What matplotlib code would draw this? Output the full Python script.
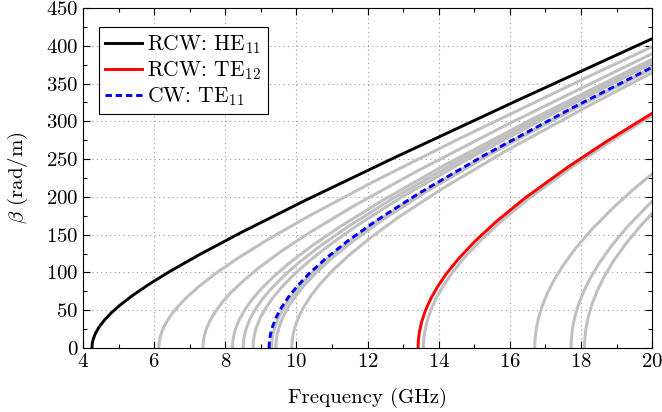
import matplotlib
matplotlib.use("Agg")
import matplotlib.pyplot as plt
from matplotlib.ticker import MultipleLocator

plt.rcParams['font.family'] = 'serif'
plt.rcParams['font.serif'] = ['cmr10']
plt.rcParams['mathtext.fontset'] = 'cm'
plt.rcParams['axes.formatter.use_mathtext'] = True

# dispersion curves: frequency (GHz) and beta (rad/m)
he11_f = [4.25, 4.26, 4.29, 4.35, 4.45, 4.6, 4.8, 5.05, 5.4, 5.85, 6.45, 7.25,
          8.45, 10.25, 12.75, 16.25, 20]
he11_b = [0, 6.1, 12.2, 19.4, 27.6, 36.9, 46.7, 57.1, 69.8, 84.2, 101.6, 123.0,
          153.0, 195.4, 251.8, 328.5, 409.3]

te12_f = [13.42, 13.43, 13.46, 13.52, 13.62, 13.77, 13.97, 14.22, 14.57, 15.02,
          15.62, 16.42, 17.62, 18.72, 20]
te12_b = [0, 10.9, 21.7, 34.4, 48.7, 64.6, 81.3, 98.5, 118.8, 141.3, 167.4,
          198.2, 239.1, 273.4, 310.6]

cw_te11_f = [9.23, 9.24, 9.27, 9.33, 9.43, 9.58, 9.78, 10.03, 10.38, 10.83,
             11.43, 12.23, 13.43, 15.23, 17.73, 20]
cw_te11_b = [0, 9.0, 18.0, 28.5, 40.5, 53.7, 67.7, 82.2, 99.5, 118.7, 141.2,
             168.1, 204.3, 253.7, 317.1, 371.6]

# other RCW modes (grey)
grey_f = [
    [6.13, 6.14, 6.17, 6.23, 6.33, 6.48, 6.68, 6.93, 7.28, 7.73, 8.33, 9.13,
     10.33, 12.13, 14.63, 18.13, 20],
    [7.37, 7.38, 7.41, 7.47, 7.57, 7.72, 7.92, 8.17, 8.52, 8.97, 9.57, 10.37,
     11.57, 13.37, 15.87, 19.37, 20],
    [8.2, 8.21, 8.24, 8.3, 8.4, 8.55, 8.75, 9.0, 9.35, 9.8, 10.4, 11.2, 12.4,
     14.2, 16.7, 20],
    [8.5, 8.51, 8.54, 8.6, 8.7, 8.85, 9.05, 9.3, 9.65, 10.1, 10.7, 11.5, 12.7,
     14.5, 17.0, 20],
    [8.78, 8.79, 8.82, 8.88, 8.98, 9.13, 9.33, 9.58, 9.93, 10.38, 10.98, 11.78,
     12.98, 14.78, 17.28, 20],
    [9.3, 9.31, 9.34, 9.4, 9.5, 9.65, 9.85, 10.1, 10.45, 10.9, 11.5, 12.3, 13.5,
     15.3, 17.8, 20],
    [9.42, 9.43, 9.46, 9.52, 9.62, 9.77, 9.97, 10.22, 10.57, 11.02, 11.62,
     12.42, 13.62, 15.42, 17.92, 20],
    [9.87, 9.88, 9.91, 9.97, 10.07, 10.22, 10.42, 10.67, 11.02, 11.47, 12.07,
     12.87, 14.07, 15.87, 18.37, 20],
    [13.57, 13.58, 13.61, 13.67, 13.77, 13.92, 14.12, 14.37, 14.72, 15.17,
     15.77, 16.57, 17.77, 18.87, 20],
    [16.7, 16.71, 16.74, 16.8, 16.9, 17.05, 17.25, 17.5, 17.85, 18.3, 18.9,
     19.45, 20],
    [17.72, 17.73, 17.76, 17.82, 17.92, 18.07, 18.27, 18.52, 18.87, 19.32, 20],
    [18.1, 18.11, 18.14, 18.2, 18.3, 18.45, 18.65, 18.9, 19.25, 19.7, 20],
]
grey_b = [
    [0, 7.3, 14.7, 23.3, 33.1, 44.0, 55.6, 67.7, 82.3, 98.6, 118.1, 141.7,
     174.1, 219.2, 278.2, 357.4, 398.7],
    [0, 8.0, 16.1, 25.5, 36.2, 48.1, 60.7, 73.9, 89.5, 107.1, 127.9, 152.8,
     186.8, 233.6, 294.4, 375.2, 389.4],
    [0, 8.5, 17.0, 26.9, 38.2, 50.7, 64.0, 77.7, 94.1, 112.4, 134.0, 159.8,
     194.8, 242.8, 304.7, 382.1],
    [0, 8.6, 17.3, 27.4, 38.9, 51.6, 65.1, 79.0, 95.7, 114.3, 136.1, 162.2,
     197.6, 246.0, 308.4, 379.2],
    [0, 8.8, 17.6, 27.8, 39.5, 52.4, 66.1, 80.3, 97.2, 116.0, 138.1, 164.5,
     200.2, 249.0, 311.7, 376.4],
    [0, 9.0, 18.1, 28.6, 40.6, 53.9, 68.0, 82.5, 99.8, 119.1, 141.7, 168.6,
     205.0, 254.5, 317.9, 370.8],
    [0, 9.1, 18.2, 28.8, 40.9, 54.3, 68.4, 83.0, 100.4, 119.8, 142.5, 169.5,
     206.0, 255.7, 319.3, 369.5],
    [0, 9.3, 18.6, 29.5, 41.8, 55.5, 70.0, 84.9, 102.7, 122.4, 145.5, 173.0,
     210.0, 260.3, 324.5, 364.3],
    [0, 10.9, 21.8, 34.6, 49.0, 65.0, 81.7, 99.0, 119.5, 142.0, 168.3, 199.2,
     240.3, 274.6, 307.7],
    [0, 12.1, 24.2, 38.3, 54.3, 72.0, 90.5, 109.6, 132.0, 156.7, 185.4, 208.8,
     230.5],
    [0, 12.5, 25.0, 39.5, 55.9, 74.1, 93.2, 112.8, 135.9, 161.2, 194.2],
    [0, 12.6, 25.2, 39.9, 56.5, 74.9, 94.2, 114.0, 137.3, 162.9, 178.0],
]

fs = 15

fig = plt.figure(figsize=(6.62, 4.12), dpi=100)
ax = fig.add_axes([0.1254, 0.1553, 0.8596, 0.8253])

for f, b in zip(grey_f, grey_b):
    ax.plot(f, b, color='#c0c0c0', lw=2.2)

ax.plot(he11_f, he11_b, color='black', lw=2.1, label='RCW: HE$_{11}$')
ax.plot(te12_f, te12_b, color='red', lw=2.1, label='RCW: TE$_{12}$')
ax.plot(cw_te11_f, cw_te11_b, color='blue', lw=2.1, ls=(0, (2.2, 1.3)),
        label='CW: TE$_{11}$')

ax.set_xlim(4, 20)
ax.set_ylim(0, 450)
ax.xaxis.set_major_locator(MultipleLocator(2))
ax.xaxis.set_minor_locator(MultipleLocator(1))
ax.yaxis.set_major_locator(MultipleLocator(50))
ax.yaxis.set_minor_locator(MultipleLocator(25))
ax.tick_params(which='both', direction='in', top=True, right=True,
               labelsize=fs, width=0.8)
ax.tick_params(which='major', length=5)
ax.tick_params(which='minor', length=3)
ax.grid(True, which='major', color='#999999', ls=(0, (1, 3)), lw=0.8)

ax.set_xlabel('Frequency (GHz)', fontsize=fs, labelpad=12)
ax.set_ylabel(r'$\beta$ (rad/m)', fontsize=fs, labelpad=11)

leg = ax.legend(loc='upper left', bbox_to_anchor=(0.028, 0.944),
                borderaxespad=0, fontsize=15.5, fancybox=False, framealpha=1,
                edgecolor='black', handlelength=1.7, handletextpad=0.25,
                borderpad=0.3, labelspacing=0.15)
leg.get_frame().set_linewidth(0.8)

fig.savefig('out.png', dpi=100)
